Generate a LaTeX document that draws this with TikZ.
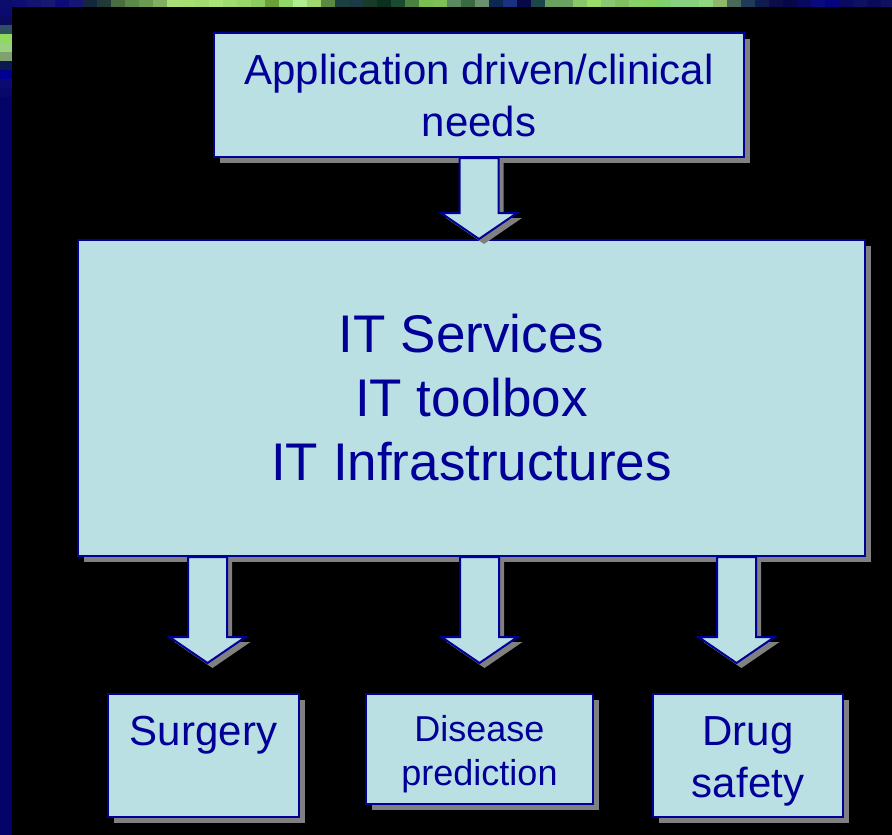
\documentclass[tikz,border=0pt]{standalone}
\usepackage{fontspec}
\setmainfont{Liberation Sans}
\usetikzlibrary{calc}
\usetikzlibrary{shadows}
\usetikzlibrary{positioning}
\definecolor{boxfill}{HTML}{BBE0E3}
\definecolor{boxblue}{HTML}{000099}
\definecolor{shadowgray}{HTML}{808080}
\definecolor{stripbase}{HTML}{040468}
\tikzstyle{box_shadow}=[drop shadow={shadow xshift=6pt, shadow yshift=-6pt, opacity=1, fill=shadowgray}]
\tikzstyle{arrow_shadow}=[drop shadow={shadow xshift=5pt, shadow yshift=-5pt, opacity=1, fill=shadowgray}]
\tikzstyle{box}=[rectangle, draw=boxblue, line width=2pt, fill=boxfill, text=boxblue, inner sep=0pt, align=center, box_shadow]
\tikzstyle{fat_arrow}=[draw=boxblue, line width=2pt, fill=boxfill, arrow_shadow,
  to path={($(\tikztostart)+(-19.5,0)$) -- ($(\tikztotarget)+(-19.5,-26)$) -- ($(\tikztotarget)+(-38,-26)$)
    -- (\tikztotarget) -- ($(\tikztotarget)+(38,-26)$) -- ($(\tikztotarget)+(19.5,-26)$) -- ($(\tikztostart)+(19.5,0)$) -- cycle}]
\begin{document}
\begin{tikzpicture}[x=1pt, y=-1pt]
          \useasboundingbox (0,0) rectangle (892,835);
          \fill[black] (0,0) rectangle (892,835);
          \fill[stripbase] (0,0) rectangle (12,835);
          \foreach \c [count=\i from 0] in {0C0C6A,0E0E72,141470,181870,0C0C78,161672,14283C,203A38,4A6E42,5A8A48,6A9A50,80B060,A8E078,A4E070,A0DC70,A8E478,A0DC70,98D868,8CCC60,6AA038,90D868,B0F090,A0D870,5A8A40,1A4040,1A3A48,1A3A28,0A3020,1A4A30,4A8040,7AC050,80C058,5A8A60,3A6A40,6A9070,0A2850,1A3080,080848,1A4848,6AA060,6AA060,88C868,98E068,88C870,80C060,88D068,88D060,80D070,88D080,88D080,90D880,90B868,4A6A58,203A5A,101C50,0C0C48,060648,080860,0A0A80,040480,0A0A60,101060,0A0A58,101060}{
            \definecolor{tile}{HTML}{\c}
            \fill[tile] (\i*14-1,0) rectangle +(14,7);
          }
          \foreach \c [count=\i from 0] in {0A0A70,0A0A60,305060,90D860,98D080,80A070,0A1A50,000090,0A0A70,08086A}{
            \definecolor{tile}{HTML}{\c}
            \fill[tile] (0,\i*9+7) rectangle +(12,9);
          }
          \node[box, minimum width=530pt, minimum height=124pt, font=\fontsize{42}{52}\selectfont] (needs) at (479,95) {Application driven/clinical\\needs};
          \node[box, minimum width=787pt, minimum height=316pt, font=\fontsize{53}{64}\selectfont] (it) at (471.5,398) {IT Services\\IT toolbox\\IT Infrastructures};
          \node[box, minimum width=191pt, minimum height=123pt, text width=185pt, text height=30pt, text depth=51pt, font=\fontsize{42}{52}\selectfont] (surgery) at (203.5,755.5) {Surgery};
          \node[box, minimum width=227pt, minimum height=110pt, text width=220pt, text height=26pt, text depth=42pt, font=\fontsize{36}{44}\selectfont] (disease) at (479.5,749) {Disease\\prediction};
          \node[box, minimum width=190pt, minimum height=123pt, text width=185pt, text height=30pt, text depth=51pt, font=\fontsize{42}{52}\selectfont] (drug) at (748,755.5) {Drug\\safety};
          \coordinate (surgery_tip) at (207.5,663);
          \coordinate (disease_tip) at (479.5,663);
          \coordinate (drug_tip) at (736.5,663);
          \draw[fat_arrow] (needs.south) to (it.north -| needs.south);
          \draw[fat_arrow] (it.south -| surgery_tip) to (surgery_tip);
          \draw[fat_arrow] (it.south -| disease_tip) to (disease_tip);
          \draw[fat_arrow] (it.south -| drug_tip) to (drug_tip);
        \end{tikzpicture}
\end{document}
